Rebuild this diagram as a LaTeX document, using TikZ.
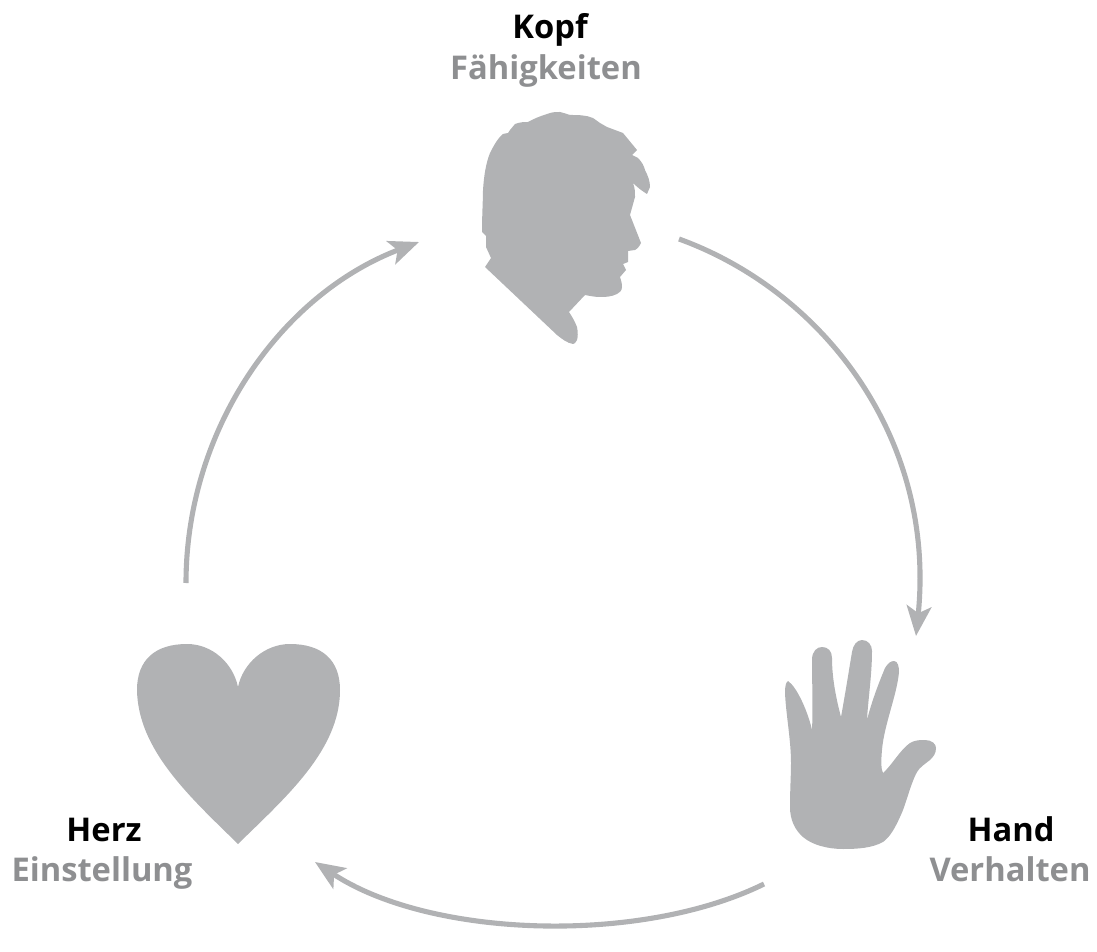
\documentclass[tikz,border=0pt]{standalone}
\usepackage{fontspec}
\setmainfont{Open Sans}
\usetikzlibrary{arrows.meta}
\definecolor{iconGray}{HTML}{B1B2B4}
\definecolor{labelGray}{HTML}{8E8F91}
\tikzset{
    icon/.style={fill=iconGray, draw=none},
    cycle/.style={draw=iconGray, line width=1.45pt, -{Stealth[length=8.5pt, width=7pt, inset=2pt]}},
    title/.style={font=\fontsize{9.3pt}{12pt}\selectfont\bfseries, text=black, inner sep=0pt, anchor=base},
    subtitle/.style={font=\fontsize{9.3pt}{12pt}\selectfont\bfseries, text=labelGray, inner sep=0pt, anchor=base},
}
\begin{document}
\begin{tikzpicture}[x=0.01cm, y=-0.01cm]
    \useasboundingbox (0,0) rectangle (1097,952);

    % head
    \fill[icon] (485,267) -- (491,258) -- (486,247) -- (486,236) -- (482,232)
        .. controls (482,215) and (483,200) .. (483,190)
        .. controls (484,175) and (486,163) .. (490,153)
        .. controls (494,145) and (498,138) .. (503,134)
        -- (508,133) -- (510,130) -- (515,124)
        .. controls (520,122) and (525,122) .. (528,122)
        .. controls (535,118) and (541,116) .. (547,114)
        .. controls (552,112) and (556,112) .. (560,112)
        .. controls (564,113) and (567,114) .. (570,115)
        .. controls (578,115) and (586,115) .. (593,118)
        -- (600,123) -- (607,127) -- (623,133)
        -- (637,150) -- (632,155) -- (638,158)
        .. controls (642,162) and (644,166) .. (645,170)
        .. controls (648,176) and (650,181) .. (650,187)
        -- (647,194)
        .. controls (642,191) and (637,187) .. (633,183)
        .. controls (635,188) and (635,192) .. (635,197)
        -- (630,215) -- (641,243)
        .. controls (639,248) and (635,250) .. (635,250)
        -- (628,251) -- (628,262) -- (623,264) -- (626,270) -- (620,277)
        .. controls (621,280) and (622,283) .. (622,287)
        .. controls (622,291) and (619,293) .. (617,294)
        .. controls (611,297) and (605,297) .. (600,297)
        .. controls (595,297) and (590,296) .. (585,295)
        -- (569,312)
        .. controls (573,318) and (575,322) .. (577,327)
        .. controls (578,332) and (578,337) .. (577,340)
        .. controls (576,343) and (574,344) .. (573,344)
        .. controls (567,343) and (562,339) .. (557,335)
        -- cycle;

    % hand
    \fill[icon] (788,681)
        .. controls (797,687) and (808,712) .. (812,730)
        .. controls (813,710) and (812,680) .. (812,660)
        .. controls (812,651) and (817,647) .. (822,647)
        .. controls (828,647) and (832,651) .. (832,658)
        .. controls (832,680) and (837,702) .. (841,717)
        .. controls (845,695) and (849,670) .. (852,652)
        .. controls (853,645) and (857,640) .. (862,640)
        .. controls (868,640) and (872,645) .. (872,651)
        .. controls (872,675) and (868,700) .. (867,720)
        .. controls (872,700) and (880,680) .. (885,668)
        .. controls (888,663) and (891,661) .. (894,661)
        .. controls (898,661) and (899,667) .. (899,672)
        .. controls (897,695) and (884,725) .. (882,750)
        .. controls (881,760) and (881,770) .. (883,773)
        .. controls (892,765) and (900,750) .. (910,743)
        .. controls (915,740) and (920,740) .. (925,740)
        .. controls (932,740) and (936,744) .. (936,748)
        .. controls (936,754) and (933,757) .. (930,760)
        .. controls (925,764) and (920,767) .. (917,772)
        .. controls (910,785) and (906,805) .. (900,817)
        .. controls (895,828) and (890,837) .. (883,842)
        .. controls (872,848) and (858,849) .. (843,849)
        .. controls (828,849) and (812,845) .. (803,837)
        .. controls (795,830) and (790,820) .. (790,807)
        .. controls (790,790) and (791,775) .. (791,763)
        .. controls (791,740) and (786,715) .. (785,693)
        .. controls (785,686) and (786,682) .. (788,681)
        -- cycle;

    % heart
    \fill[icon] (238,687)
        .. controls (233,663) and (212,644) .. (187,644)
        .. controls (155,644) and (137,660) .. (137,690)
        .. controls (138,750) and (190,797) .. (238,844)
        .. controls (286,797) and (340,750) .. (340,690)
        .. controls (340,660) and (322,644) .. (290,644)
        .. controls (265,644) and (243,663) .. (238,687)
        -- cycle;

    % labels
    \node[title] (kopf) at (550,39) {Kopf};
    \node[subtitle] (faehigkeiten) at (546,80) {Fähigkeiten};
    \node[title] (hand) at (1011,841) {Hand};
    \node[subtitle] (verhalten) at (1010,881) {Verhalten};
    \node[title] (herz) at (104,841) {Herz};
    \node[subtitle] (einstellung) at (102,881) {Einstellung};

    % cycle
    \coordinate (kopfIn) at (419,242);
    \coordinate (kopfOut) at (679,239);
    \coordinate (handIn) at (916,636);
    \coordinate (handOut) at (764,884);
    \coordinate (herzIn) at (315,862);
    \coordinate (herzOut) at (186,583);
    \draw[cycle] (kopfOut) .. controls (825,292) and (936,440) .. (handIn);
    \draw[cycle] (handOut) .. controls (640,945) and (430,938) .. (herzIn);
    \draw[cycle] (herzOut) .. controls (186,430) and (280,295) .. (kopfIn);
\end{tikzpicture}
\end{document}
